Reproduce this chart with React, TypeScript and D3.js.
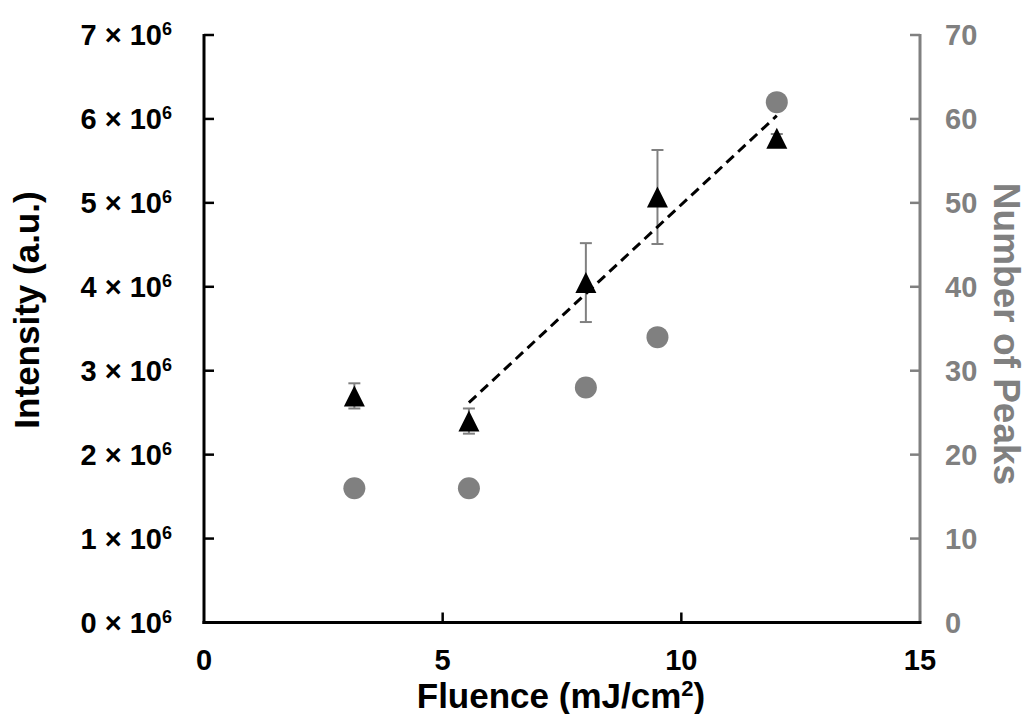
import React from "react";
import * as d3 from "d3";

const fluence = [3.15, 5.55, 8.0, 9.5, 12.0];
const intensity = [2.7e6, 2.4e6, 4.05e6, 5.07e6, 5.77e6];
const intensityErr = [0.15e6, 0.15e6, 0.47e6, 0.56e6, 0.05e6];
const peaks = [16, 16, 28, 34, 62];
const fitIndices = [1, 2, 3, 4];
const xTicks = [0, 5, 10, 15];
const leftTicks = [0, 1, 2, 3, 4, 5, 6, 7];
const rightTicks = [0, 10, 20, 30, 40, 50, 60, 70];

const W = 1026;
const H = 714;
const FONT = "'Liberation Sans', Arial, sans-serif";
const GRAY = "#808080";

export default function App() {
  const x = d3.scaleLinear().domain([0, 15]).range([204, 920]);
  const yL = d3.scaleLinear().domain([0, 7e6]).range([622.5, 35]);
  const yR = d3.scaleLinear().domain([0, 70]).range([622.5, 35]);

  // least squares trend line over the fitted points
  const fx = fitIndices.map((i) => fluence[i]);
  const fy = fitIndices.map((i) => intensity[i]);
  const mx = d3.mean(fx)!;
  const my = d3.mean(fy)!;
  let sxy = 0, sxx = 0;
  fx.forEach((v, k) => {
    sxy += (v - mx) * (fy[k] - my);
    sxx += (v - mx) * (v - mx);
  });
  const slope = sxy / sxx;
  const x0 = d3.min(fx)!;
  const x1 = d3.max(fx)!;
  const line = d3.line<[number, number]>().x((d) => x(d[0])).y((d) => yL(d[1]));
  const trend = line([
    [x0, my + slope * (x0 - mx)],
    [x1, my + slope * (x1 - mx)],
  ]);

  const triSize = 21;
  const triPath = `M0,${-triSize / 2}L${triSize / 2},${triSize / 2}L${-triSize / 2},${triSize / 2}Z`;

  return (
    <svg
      width={W}
      height={H}
      style={{ position: "absolute", left: 0, top: 0, background: "#fff" }}
      fontFamily={FONT}
      fontWeight="bold"
    >
      <rect x={0} y={0} width={W} height={H} fill="#fff" />
      {/* left axis */}
      <line x1={x(0)} x2={x(0)} y1={yL(7e6) - 1} y2={yL(0) + 1.5} stroke="#000" strokeWidth={3} />
      {leftTicks.map((t) => (
        <g key={"lt" + t}>
          <line x1={x(0)} x2={x(0) + 10} y1={yL(t * 1e6)} y2={yL(t * 1e6)} stroke="#000" strokeWidth={2.5} />
          <text x={172} y={yL(t * 1e6) + 10} textAnchor="end" fontSize={29} fill="#000">
            {t} × 10
            <tspan fontSize={18} dy={-10}>6</tspan>
          </text>
        </g>
      ))}
      {/* right axis */}
      <line x1={x(15)} x2={x(15)} y1={yR(70) - 1} y2={yR(0)} stroke={GRAY} strokeWidth={3} />
      {rightTicks.map((t) => (
        <g key={"rt" + t}>
          <line x1={x(15) - 10} x2={x(15)} y1={yR(t)} y2={yR(t)} stroke={GRAY} strokeWidth={2.5} />
          <text x={945} y={yR(t) + 10} textAnchor="start" fontSize={29} fill={GRAY}>
            {t}
          </text>
        </g>
      ))}
      {/* bottom axis */}
      <line x1={x(0) - 1.5} x2={x(15) + 1.5} y1={yL(0)} y2={yL(0)} stroke="#000" strokeWidth={3} />
      {xTicks.map((t) => (
        <g key={"xt" + t}>
          {t > 0 && t < 15 && (
            <line x1={x(t)} x2={x(t)} y1={yL(0)} y2={yL(0) - 10} stroke="#000" strokeWidth={2.5} />
          )}
          <text x={x(t)} y={670} textAnchor="middle" fontSize={29} fill="#000">
            {t}
          </text>
        </g>
      ))}
      {/* axis titles */}
      <text x={561} y={708} textAnchor="middle" fontSize={35} fill="#000">
        Fluence (mJ/cm
        <tspan fontSize={22} dy={-12}>2</tspan>
        <tspan dy={12}>)</tspan>
      </text>
      <text
        transform={`translate(39,310) rotate(-90)`}
        textAnchor="middle"
        fontSize={35}
        fill="#000"
      >
        Intensity (a.u.)
      </text>
      <text
        transform={`translate(994,334) rotate(90)`}
        textAnchor="middle"
        fontSize={37}
        fill={GRAY}
      >
        Number of Peaks
      </text>

      {/* peaks circles */}
      {fluence.map((f, i) => (
        <circle key={"c" + i} cx={x(f)} cy={yR(peaks[i])} r={11} fill={GRAY} />
      ))}
      {/* error bars */}
      {fluence.map((f, i) => {
        const cx = x(f);
        const yt = yL(intensity[i] + intensityErr[i]);
        const yb = yL(intensity[i] - intensityErr[i]);
        return (
          <g key={"e" + i} stroke={GRAY} strokeWidth={2}>
            <line x1={cx} x2={cx} y1={yt} y2={yb} />
            <line x1={cx - 6} x2={cx + 6} y1={yt} y2={yt} />
            <line x1={cx - 6} x2={cx + 6} y1={yb} y2={yb} />
          </g>
        );
      })}
      {/* triangles */}
      {fluence.map((f, i) => (
        <path
          key={"t" + i}
          d={triPath}
          transform={`translate(${x(f)},${yL(intensity[i])})`}
          fill="#000"
        />
      ))}
      {/* trend line */}
      <path d={trend ?? ""} fill="none" stroke="#000" strokeWidth={3} strokeDasharray="10,6" />
    </svg>
  );
}
